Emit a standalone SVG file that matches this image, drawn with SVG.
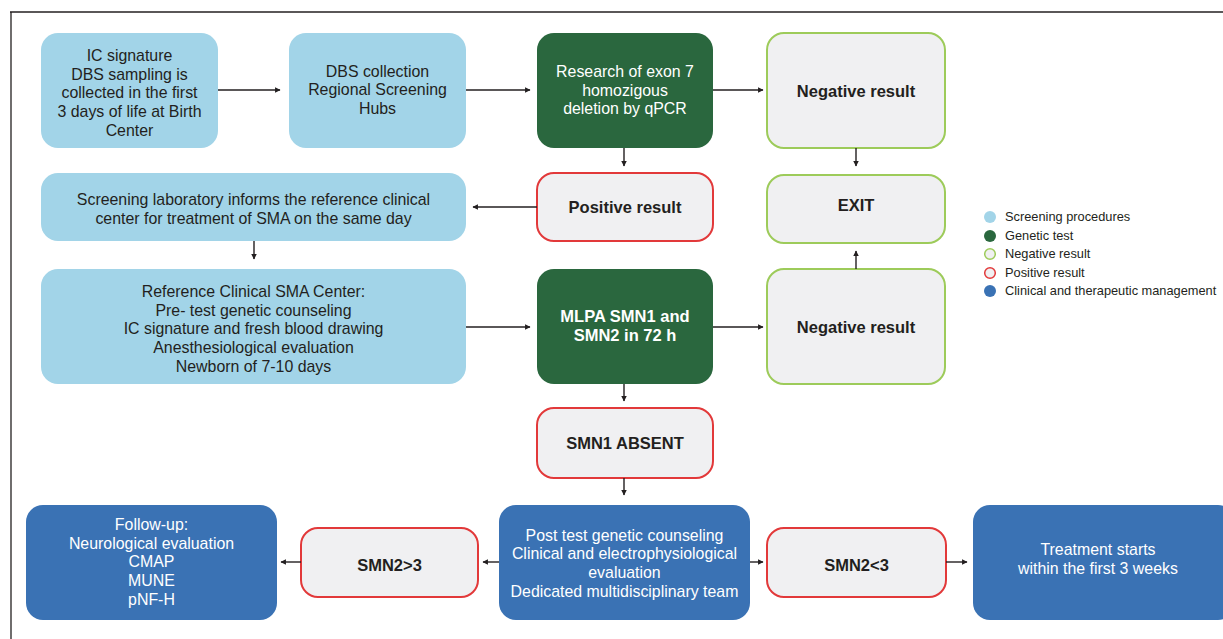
<svg xmlns="http://www.w3.org/2000/svg" width="1223" height="639" viewBox="0 0 1223 639">
<defs>
<marker id="ah" viewBox="0 0 10 10" refX="9" refY="5" markerWidth="5.5" markerHeight="5.5" orient="auto" markerUnits="userSpaceOnUse">
<path d="M0,0 L10,5 L0,10 z" fill="#231f20"/>
</marker>
<style>
.scr{fill:#a2d4e8;}
.gen{fill:#2a673e;}
.neg{fill:#f0f0f2;stroke:#9dcb5a;stroke-width:2;}
.pos{fill:#f0f0f2;stroke:#e2393a;stroke-width:2;}
.cli{fill:#3a72b4;}
text{font-family:"Liberation Sans",Arial,sans-serif;font-size:15.9px;text-anchor:middle;fill:#231f20;}
.w{fill:#ffffff;}
.b{font-weight:bold;font-size:16.5px;}
.leg{text-anchor:start;font-size:12.8px;}
.conn line{stroke:#231f20;stroke-width:1.4;marker-end:url(#ah);}
</style>
</defs>
<rect width="1223" height="639" fill="#ffffff"/>
<g id="frame" stroke="#231f20" stroke-width="1.3" fill="none">
<line x1="10" y1="12" x2="1223" y2="12"/>
<line x1="11" y1="12" x2="11" y2="639"/>
</g>

<g id="n1"><rect class="scr" x="41" y="33" width="177" height="115" rx="17"/>
<text x="129.5" y="61">IC signature</text><text x="129.5" y="80">DBS sampling is</text><text x="129.5" y="98">collected in the first</text><text x="129.5" y="117">3 days of life at Birth</text><text x="129.5" y="136">Center</text></g>
<g id="n2"><rect class="scr" x="289" y="33" width="177" height="115" rx="17"/>
<text x="377.5" y="77">DBS collection</text><text x="377.5" y="95">Regional Screening</text><text x="377.5" y="114">Hubs</text></g>
<g id="n3"><rect class="gen" x="537" y="33" width="176" height="115" rx="17"/>
<text class="w" x="625" y="77">Research of exon 7</text><text class="w" x="625" y="96">homozigous</text><text class="w" x="625" y="114">deletion by qPCR</text></g>
<g id="n4"><rect class="neg" x="767" y="33" width="178" height="115" rx="17"/>
<text class="b" x="856" y="97">Negative result</text></g>
<g id="n5"><rect class="scr" x="41" y="173" width="425" height="68" rx="17"/>
<text x="253.5" y="205">Screening laboratory informs the reference clinical</text><text x="253.5" y="224">center for treatment of SMA on the same day</text></g>
<g id="n6"><rect class="pos" x="537" y="173" width="176" height="68" rx="17"/>
<text class="b" x="625" y="213">Positive result</text></g>
<g id="n7"><rect class="neg" x="767" y="175" width="178" height="68" rx="17"/>
<text class="b" x="856" y="211">EXIT</text></g>
<g id="n8"><rect class="scr" x="41" y="269" width="425" height="115" rx="17"/>
<text x="253.5" y="297">Reference Clinical SMA Center:</text><text x="253.5" y="316">Pre- test genetic counseling</text><text x="253.5" y="334">IC signature and fresh blood drawing</text><text x="253.5" y="353">Anesthesiological evaluation</text><text x="253.5" y="372">Newborn of 7-10 days</text></g>
<g id="n9"><rect class="gen" x="537" y="269" width="176" height="115" rx="17"/>
<text class="w b" x="625" y="322">MLPA SMN1 and</text><text class="w b" x="625" y="341">SMN2 in 72 h</text></g>
<g id="n10"><rect class="neg" x="767" y="269" width="178" height="115" rx="17"/>
<text class="b" x="856" y="333">Negative result</text></g>
<g id="n11"><rect class="pos" x="537" y="408" width="176" height="70" rx="17"/>
<text class="b" x="625" y="449">SMN1 ABSENT</text></g>
<g id="n12"><rect class="cli" x="26" y="505" width="251" height="115" rx="17"/>
<text class="w" x="151.5" y="530">Follow-up:</text><text class="w" x="151.5" y="549">Neurological evaluation</text><text class="w" x="151.5" y="567">CMAP</text><text class="w" x="151.5" y="586">MUNE</text><text class="w" x="151.5" y="605">pNF-H</text></g>
<g id="n13"><rect class="pos" x="301" y="528" width="177" height="69" rx="17"/>
<text class="b" x="389.5" y="571">SMN2&gt;3</text></g>
<g id="n14"><rect class="cli" x="499" y="505" width="251" height="115" rx="17"/>
<text class="w" x="624.5" y="541">Post test genetic counseling</text><text class="w" x="624.5" y="559">Clinical and electrophysiological</text><text class="w" x="624.5" y="578">evaluation</text><text class="w" x="624.5" y="597">Dedicated multidisciplinary team</text></g>
<g id="n15"><rect class="pos" x="767" y="528" width="179" height="69" rx="17"/>
<text class="b" x="856.5" y="571">SMN2&lt;3</text></g>
<g id="n16"><rect class="cli" x="973" y="505" width="262" height="115" rx="17"/>
<text class="w" x="1098" y="555">Treatment starts</text><text class="w" x="1098" y="574">within the first 3 weeks</text></g>

<g id="connectors" class="conn">
<line x1="218" y1="90" x2="280" y2="90"/>
<line x1="466" y1="90" x2="530" y2="90"/>
<line x1="713" y1="90" x2="763" y2="90"/>
<line x1="624" y1="148" x2="624" y2="166"/>
<line x1="856" y1="148" x2="856" y2="166"/>
<line x1="537" y1="207" x2="473" y2="207"/>
<line x1="254" y1="241" x2="254" y2="259"/>
<line x1="466" y1="327" x2="530" y2="327"/>
<line x1="713" y1="327" x2="763" y2="327"/>
<line x1="856" y1="269" x2="856" y2="251"/>
<line x1="624" y1="384" x2="624" y2="401"/>
<line x1="624" y1="478" x2="624" y2="495"/>
<line x1="499" y1="562" x2="483" y2="562"/>
<line x1="301" y1="562" x2="281" y2="562"/>
<line x1="750" y1="562" x2="763" y2="562"/>
<line x1="946" y1="562" x2="967" y2="562"/>
</g>

<g id="legend">
<circle cx="990" cy="217" r="6" fill="#a2d4e8"/>
<circle cx="990" cy="236" r="6" fill="#2a673e"/>
<circle cx="990" cy="254" r="5.3" fill="#f0f0f2" stroke="#9dcb5a" stroke-width="1.5"/>
<circle cx="990" cy="273" r="5.3" fill="#f0f0f2" stroke="#e2393a" stroke-width="1.5"/>
<circle cx="990" cy="291" r="6" fill="#3a72b4"/>
<text class="leg" x="1005" y="221">Screening procedures</text>
<text class="leg" x="1005" y="240">Genetic test</text>
<text class="leg" x="1005" y="258">Negative result</text>
<text class="leg" x="1005" y="277">Positive result</text>
<text class="leg" x="1005" y="295">Clinical and therapeutic management</text>
</g>
</svg>
